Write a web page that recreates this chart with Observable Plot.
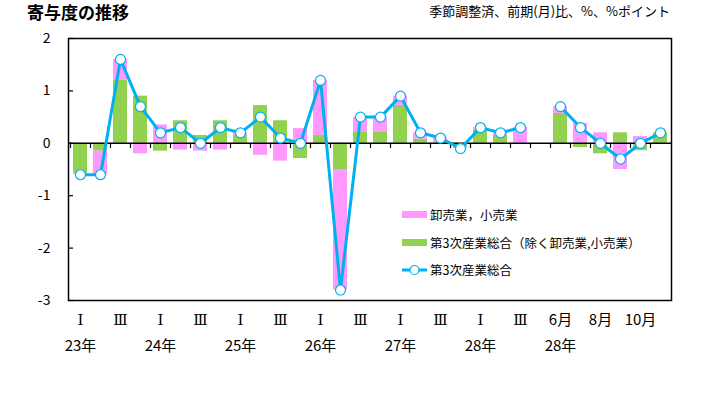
<!DOCTYPE html>
<html><head><meta charset="utf-8">
<script src="https://cdn.jsdelivr.net/npm/d3@7"></script>
<script src="https://cdn.jsdelivr.net/npm/@observablehq/plot@0.6"></script>
<style>
body{margin:0;background:#fff;font-family:"Noto Sans CJK JP",sans-serif;color:#000;}
#wrap{position:relative;width:701px;height:398px;overflow:hidden;}
#title{position:absolute;left:27px;top:2px;font-size:17px;font-weight:bold;line-height:20px;}
#sub{position:absolute;right:31px;top:2px;font-size:13px;line-height:18px;}
#chart{position:absolute;left:0;top:0;}
#legend{position:absolute;left:402px;top:201px;font-size:12.5px;}
.row{display:flex;align-items:center;height:27.5px;white-space:nowrap;}
.sw{width:25px;height:7px;margin-right:3px;}
.ln{width:25px;height:12px;margin-right:3px;}
</style></head><body>
<div id="wrap">
<div id="chart"></div>
<div id="title">寄与度の推移</div>
<div id="sub">季節調整済、前期(月)比、%、%ポイント</div>
<div id="legend"></div>
</div>
<script>
const periods = ["23年Ⅰ","23年Ⅱ","23年Ⅲ","23年Ⅳ","24年Ⅰ","24年Ⅱ","24年Ⅲ","24年Ⅳ","25年Ⅰ","25年Ⅱ","25年Ⅲ","25年Ⅳ","26年Ⅰ","26年Ⅱ","26年Ⅲ","26年Ⅳ","27年Ⅰ","27年Ⅱ","27年Ⅲ","27年Ⅳ","28年Ⅰ","28年Ⅱ","28年Ⅲ"," ","28年6月","28年7月","28年8月","28年9月","28年10月","28年11月"];
const quarterLabels = ["Ⅰ","","Ⅲ","","Ⅰ","","Ⅲ","","Ⅰ","","Ⅲ","","Ⅰ","","Ⅲ","","Ⅰ","","Ⅲ","","Ⅰ","","Ⅲ","","","","","","",""];
const monthLabels = ["","","","","","","","","","","","","","","","","","","","","","","","","6月","","8月","","10月",""];
const yearLabels = ["23年","","","","24年","","","","25年","","","","26年","","","","27年","","","","28年","","","","28年","","","","",""];
const seriesNames = ["第3次産業総合（除く卸売業,小売業）","卸売業，小売業","第3次産業総合"];
const tertiaryExWholesale = [-0.57,-0.15,1.2,0.9,-0.15,0.43,0.15,0.43,0.15,0.72,0.43,-0.29,0.15,-0.5,0.22,0.22,0.72,0.08,0.02,-0.06,0.27,0.15,0.0,null,0.57,-0.08,-0.2,0.2,-0.14,0.2];
const wholesaleRetail = [-0.03,-0.45,0.4,-0.2,0.35,-0.13,-0.15,-0.13,0.05,-0.23,-0.34,0.28,1.05,-2.3,0.28,0.28,0.18,0.12,0.08,-0.04,0.03,0.05,0.3,null,0.13,0.38,0.2,-0.5,0.13,0.0];
const tertiaryTotal = [-0.6,-0.6,1.6,0.7,0.2,0.3,0.0,0.3,0.2,0.5,0.1,0.0,1.2,-2.8,0.5,0.5,0.9,0.2,0.1,-0.1,0.3,0.2,0.3,null,0.7,0.3,0.0,-0.3,0.0,0.2];
const yTicks = [-3,-2,-1,0,1,2];

const GREEN = "#92D050", PINK = "#FF99FF", BLUE = "#00B0F0";

const bars = [];
periods.forEach((p,i)=>{ if (tertiaryExWholesale[i] != null) bars.push({p, s: seriesNames[0], v: tertiaryExWholesale[i]}); });
periods.forEach((p,i)=>{ if (wholesaleRetail[i] != null) bars.push({p, s: seriesNames[1], v: wholesaleRetail[i]}); });
const lineData = periods.map((p,i)=>({p, v: tertiaryTotal[i]}));
const qMap = new Map(periods.map((p,i)=>[p, quarterLabels[i]]));
const mMap = new Map(periods.map((p,i)=>[p, monthLabels[i]]));
const yearMap = new Map(periods.map((p,i)=>[p, yearLabels[i]]));

const chart = Plot.plot({
  width: 701, height: 398,
  marginLeft: 68, marginRight: 30, marginTop: 38, marginBottom: 98,
  style: {fontFamily: '"Noto Sans CJK JP", sans-serif', color: "#000", background: "transparent"},
  x: {type: "band", domain: periods, paddingInner: 0.3, paddingOuter: 0.15, label: null},
  y: {domain: [-3, 2], label: null},
  color: {domain: seriesNames.slice(0,2), range: [GREEN, PINK]},
  marks: [
    Plot.barY(bars, {x: "p", y: "v", fill: "s"}),
    Plot.ruleY([0], {stroke: "#000", strokeWidth: 1.5}),
    Plot.ruleX(periods, {x: d => d, y1: 0, y2: -0.1, dx: -10, stroke: "#000", strokeWidth: 1.2}),
    Plot.line(lineData, {x: "p", y: "v", stroke: BLUE, strokeWidth: 3}),
    Plot.dot(lineData.filter(d => d.v != null), {x: "p", y: "v", r: 5, fill: "white", stroke: BLUE, strokeWidth: 1.2}),
    Plot.frame({stroke: "#000", strokeWidth: 1.5}),
    Plot.axisY({ticks: yTicks, tickSize: -5, tickPadding: 23, tickFormat: d => String(d), fontSize: 14, strokeWidth: 1.2, label: null}),
    Plot.axisX({ticks: periods.filter((p,i)=>quarterLabels[i]), tickFormat: d => qMap.get(d), tickSize: 0, tickPadding: 14, fontSize: 15, fontFamily: '"DejaVu Serif", "Liberation Serif", serif', label: null}),
    Plot.axisX({ticks: periods.filter((p,i)=>monthLabels[i]), tickFormat: d => mMap.get(d), tickSize: 0, tickPadding: 14, fontSize: 15, label: null}),
    Plot.axisX({ticks: periods.filter((p,i)=>yearLabels[i]), tickFormat: d => yearMap.get(d), tickSize: 0, tickPadding: 40, fontSize: 15, label: null})
  ]
});
document.getElementById("chart").appendChild(chart);

document.getElementById("legend").innerHTML =
  `<div class="row"><div class="sw" style="background:${PINK}"></div>${seriesNames[1]}</div>` +
  `<div class="row"><div class="sw" style="background:${GREEN}"></div>${seriesNames[0]}</div>` +
  `<div class="row"><svg class="ln" viewBox="0 0 25 12"><line x1="0" y1="6" x2="25" y2="6" stroke="${BLUE}" stroke-width="3"/><circle cx="12.5" cy="6" r="4.5" fill="white" stroke="${BLUE}" stroke-width="1.2"/></svg>${seriesNames[2]}</div>`;
</script>
</body></html>
